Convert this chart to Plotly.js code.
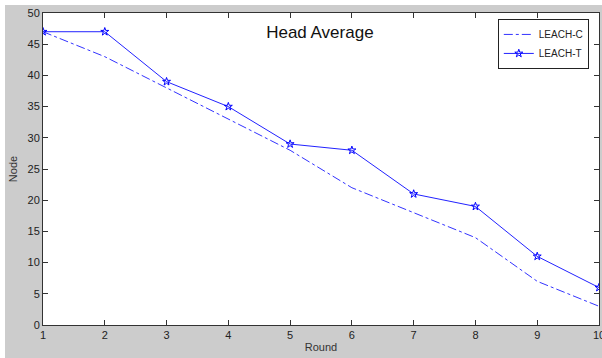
<!DOCTYPE html>
<html><head><meta charset="utf-8">
<script src="https://cdn.plot.ly/plotly-3.0.1.min.js"></script>
<style>
html,body{margin:0;padding:0;background:#ffffff;width:602px;height:358px;overflow:hidden;}
#chart{position:absolute;left:5px;top:5px;width:600px;height:353px;}
</style></head>
<body><div id="chart"></div>
<script>
const rounds = [1,2,3,4,5,6,7,8,9,10];
const leachC = [47,43,38,33,28,22,18,14,7,3];
const leachT = [47,47,39,35,29,28,21,19,11,6];
const xTicks = [1,2,3,4,5,6,7,8,9,10];
const yTicks = [0,5,10,15,20,25,30,35,40,45,50];

const traces = [
  {x: rounds, y: leachC, name: 'LEACH-C', type: 'scatter', mode: 'lines',
   line: {color: '#3333ff', width: 1, dash: 'dashdot'}},
  {x: rounds, y: leachT, name: 'LEACH-T', type: 'scatter', mode: 'lines+markers',
   line: {color: '#2222ff', width: 1},
   marker: {symbol: 'star-open', size: 6, color: '#0000ff', line: {width: 1, color: '#0000ff'}}}
];
const axisFont = {family: 'Arial, Liberation Sans, sans-serif', size: 11, color: '#222'};
const layout = {
  width: 600, height: 353,
  margin: {l: 38, r: 6, t: 8, b: 33, pad: 0},
  paper_bgcolor: '#cccccc', plot_bgcolor: '#ffffff',
  font: axisFont,
  title: {text: 'Head Average', x: 0.498, xref: 'paper', xanchor: 'center',
          y: 0.939, yref: 'paper', yanchor: 'middle',
          font: {family: 'Arial, Liberation Sans, sans-serif', size: 17, color: '#111'}},
  xaxis: {range: [1, 10], tickvals: xTicks, ticktext: xTicks.map(String),
          ticks: 'inside', ticklen: 5, tickcolor: '#333', showgrid: false, zeroline: false,
          showline: true, linecolor: '#333', linewidth: 1, mirror: 'ticks',
          tickfont: axisFont, ticklabeloverflow: 'allow',
          title: {text: 'Round', font: {family: 'Arial, Liberation Sans, sans-serif', size: 11, color: '#333'}, standoff: 3}},
  yaxis: {range: [0, 50], tickvals: yTicks, ticktext: yTicks.map(String),
          ticks: 'inside', ticklen: 5, tickcolor: '#333', showgrid: false, zeroline: false,
          showline: true, linecolor: '#333', linewidth: 1, mirror: 'ticks',
          tickfont: axisFont,
          title: {text: 'Node', font: {family: 'Arial, Liberation Sans, sans-serif', size: 11, color: '#333'}, standoff: 7}},
  showlegend: true,
  legend: {x: 0.818, xanchor: 'left', y: 0.981, yanchor: 'top',
           bgcolor: '#ffffff', bordercolor: '#222', borderwidth: 1,
           font: {family: 'Arial, Liberation Sans, sans-serif', size: 10, color: '#222'},
           tracegroupgap: 0, itemwidth: 30}
};
Plotly.newPlot('chart', traces, layout, {displayModeBar: false, staticPlot: true});
</script></body></html>
